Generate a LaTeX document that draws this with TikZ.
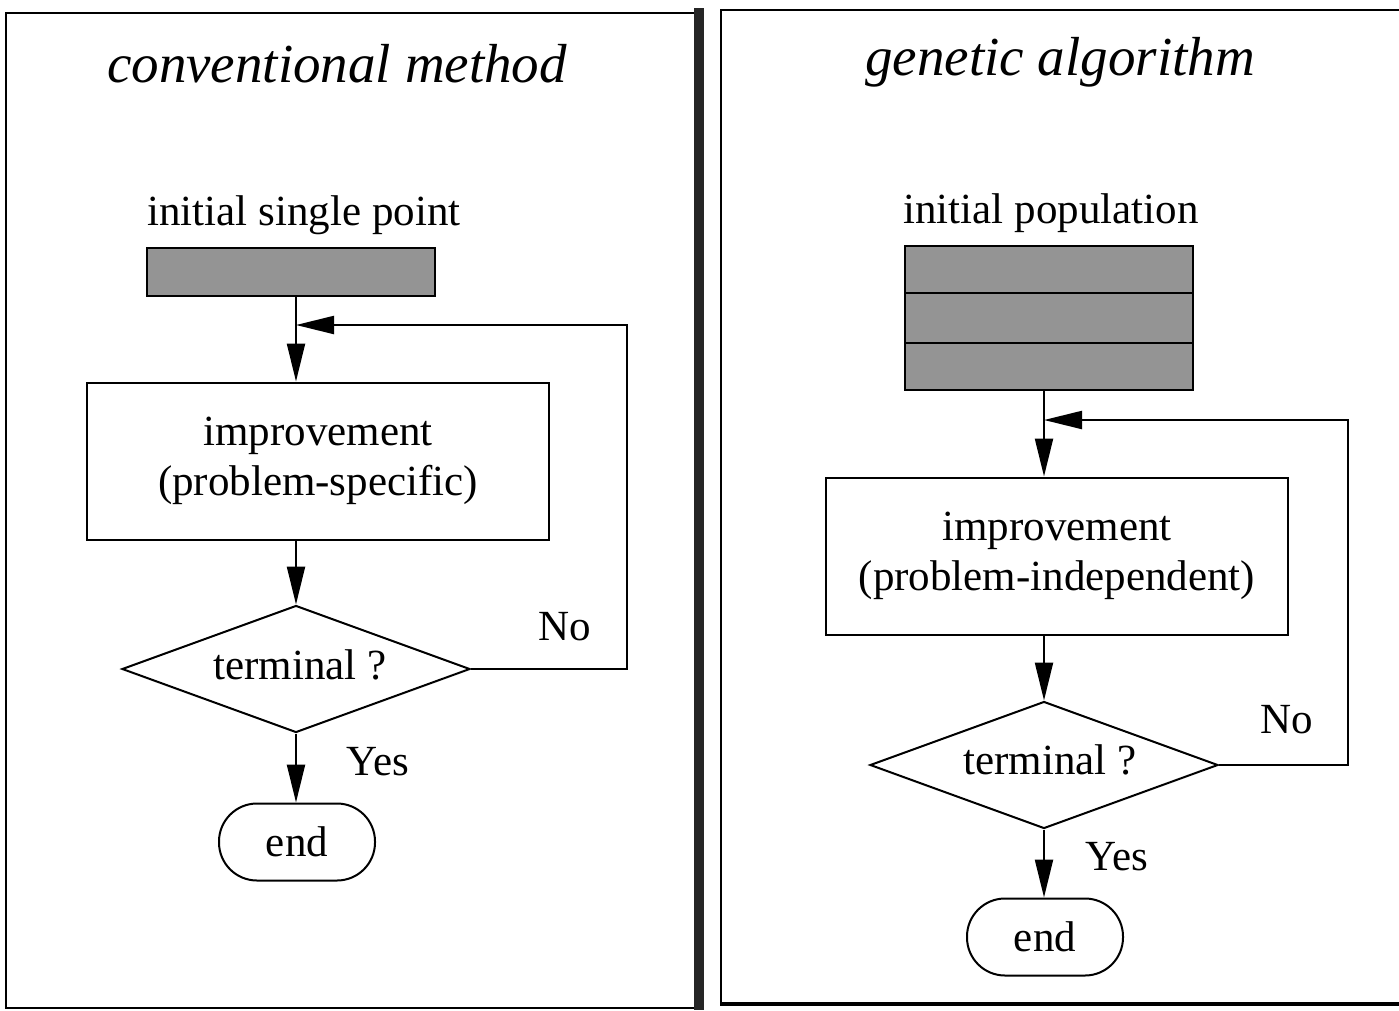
\documentclass[tikz,border=0pt]{standalone}
\usepackage{fontspec}
\setmainfont{Liberation Serif}
\usetikzlibrary{shapes.geometric,arrows.meta}
\begin{document}
\begin{tikzpicture}[x=1pt,y=-1pt,
  every node/.style={font=\fontsize{43}{50}\selectfont, inner sep=0pt},
  titlelbl/.style={font=\fontsize{55}{60}\selectfont\itshape},
  frameline/.style={line width=2.5pt},
  shadebox/.style={draw, line width=1.2pt, fill=black!42, minimum width=288pt},
  procbox/.style={draw, line width=2pt, minimum width=462pt, minimum height=157pt, align=center},
  decision/.style={draw, diamond, line width=2pt, minimum width=348pt, minimum height=127pt},
  endbox/.style={draw, line width=2pt, rounded corners=38pt, minimum width=156pt, minimum height=77pt},
  flow/.style={line width=2.2pt, -{Triangle[length=38pt,width=18pt]}},
  plain/.style={line width=2.2pt}
]
\useasboundingbox (0,0) rectangle (1399,1010);
% panel frames
\draw[frameline] (699,13) -- (6,13) -- (6,1008) -- (699,1008);
\draw[line width=10pt, black!85] (699,8) -- (699,1010);
\draw[frameline] (1399,10) -- (721,10) -- (721,1005) -- (1399,1005);
\draw[line width=4pt] (721,1004) -- (1399,1004);

% ---------------- left panel ----------------
\node[titlelbl] (titleL) at (337,64) {conventional method};
\node (lblL) at (304,215) {initial single point};
\node[shadebox, minimum height=48pt] (shadeL) at (291,272) {};
\node[procbox] (impL) at (318,461) {improvement\\(problem-specific)};
\node[decision] (diaL) at (296,669) {};
\node at (300,665) {terminal ?};
\node[endbox] (endL) at (297,842) {end};
\node (noL) at (565,627) {No};
\node (yesL) at (378,762) {Yes};
\coordinate (topL) at (296,296);
\coordinate (joinL) at (296,325);
\coordinate (fbL) at (627,325);
\draw[flow] (topL) -- (topL |- impL.north);
\draw[flow] (impL.south -| diaL.north) -- (diaL.north);
\draw[flow] (diaL.south) -- (endL.north -| diaL.south);
\draw[flow] (diaL.east) -| (fbL) -- (joinL);

% ---------------- right panel ----------------
\node[titlelbl] (titleR) at (1060,62) {genetic algorithm};
\node (lblR) at (1051,213) {initial population};
\node[shadebox, minimum height=47pt] (popA) at (1049,269.5) {};
\node[shadebox, minimum height=50pt] (popB) at (1049,318) {};
\node[shadebox, minimum height=47pt] (popC) at (1049,366.5) {};
\node[procbox] (impR) at (1057,556) {improvement\\(problem-independent)};
\node[decision] (diaR) at (1044,765) {};
\node at (1050,760) {terminal ?};
\node[endbox] (endR) at (1045,937) {end};
\node (noR) at (1287,720) {No};
\node (yesR) at (1117,857) {Yes};
\coordinate (topR) at (1044,390);
\coordinate (joinR) at (1044,420);
\coordinate (fbR) at (1348,420);
\draw[flow] (topR) -- (topR |- impR.north);
\draw[flow] (impR.south -| diaR.north) -- (diaR.north);
\draw[flow] (diaR.south) -- (endR.north -| diaR.south);
\draw[flow] (diaR.east) -| (fbR) -- (joinR);
\end{tikzpicture}
\end{document}
